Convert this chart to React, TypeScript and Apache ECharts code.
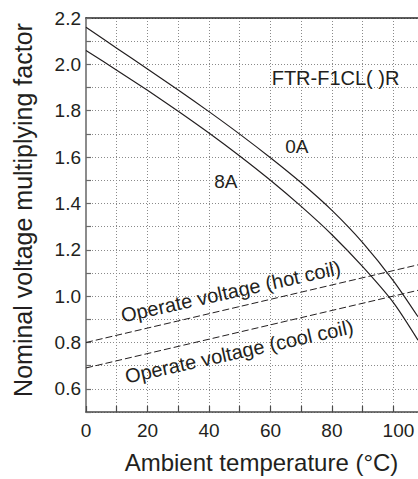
import React, { useEffect, useRef } from "react";
import * as echarts from "echarts";

const temps0A = [0, 10, 20, 30, 40, 50, 60, 70, 80, 90, 100, 108];
const vals0A = [2.16, 2.07, 1.98, 1.889, 1.796, 1.699, 1.597, 1.489, 1.37, 1.231, 1.066, 0.911];
const temps8A = [0, 10, 20, 30, 40, 50, 60, 70, 80, 90, 100, 108];
const vals8A = [2.06, 1.975, 1.888, 1.798, 1.704, 1.605, 1.5, 1.387, 1.265, 1.127, 0.972, 0.81];
const hotTemps = [0, 108];
const hotVals = [0.8, 1.135];
const coolTemps = [0, 108];
const coolVals = [0.69, 1.025];

const xTickLabels = [0, 20, 40, 60, 80, 100];
const yTickLabels = [0.6, 0.8, 1.0, 1.2, 1.4, 1.6, 1.8, 2.0, 2.2];

const annotations = [
  { text: "FTR-F1CL( )R", x: 60.4, y: 1.94, rotate: 0, align: "left", size: 20 },
  { text: "0A", x: 68.6, y: 1.647, rotate: 0, align: "center", size: 19 },
  { text: "8A", x: 45.5, y: 1.496, rotate: 0, align: "center", size: 19 },
  { text: "Operate voltage (hot coil)", x: 47.1, y: 1.02, rotate: 12.5, align: "center", size: 20 },
  { text: "Operate voltage (cool coil)", x: 49.8, y: 0.761, rotate: 12.5, align: "center", size: 20 },
];

const FONT = "'Liberation Sans', Arial, Helvetica, sans-serif";
const INK = "#231f20";

const zip = (xs: number[], ys: number[]) => xs.map((x, i) => [x, ys[i]]);

export default function App() {
  const ref = useRef<HTMLDivElement>(null);
  useEffect(() => {
    document.body.style.margin = "0";
    if (!ref.current) return;
    const chart = echarts.init(ref.current, undefined, { renderer: "svg" });
    const lineBase = { type: "line", showSymbol: false, symbol: "none", silent: true };
    chart.setOption({
      animation: false,
      grid: { left: 86, right: 0, top: 18, bottom: 67, containLabel: false },
      xAxis: [
        {
          type: "value",
          min: 0,
          max: 108,
          interval: 10,
          axisLine: { show: true, lineStyle: { color: "#4a4a4a", width: 1.5 } },
          axisTick: { show: true, inside: true, length: 6, lineStyle: { color: "#4a4a4a", width: 1.2 } },
          axisLabel: {
            margin: 9,
            fontSize: 19,
            fontFamily: FONT,
            color: INK,
            showMaxLabel: false,
            formatter: (v: number) => {
              if (!xTickLabels.some((t) => Math.abs(t - v) < 1e-6)) return "";
              return v === 100 ? "{r|100}" : String(v);
            },
            rich: { r: { fontSize: 19, fontFamily: FONT, color: INK, padding: [0, 0, 0, 10] } },
          },
          splitLine: { show: true, lineStyle: { color: "#8a8a8a", type: [1, 2], width: 1 } },
        },
        {
          type: "value",
          position: "top",
          min: 0,
          max: 108,
          axisLine: { show: true, onZero: false, lineStyle: { color: "#2a2a2a", width: 1.5 } },
          axisTick: { show: false },
          axisLabel: { show: false },
          splitLine: { show: false },
        },
      ],
      yAxis: {
        type: "value",
        min: 0.5,
        max: 2.2,
        interval: 0.1,
        axisLine: { show: true, lineStyle: { color: "#8c8c8c", width: 2 } },
        axisTick: { show: true, inside: true, length: 5, lineStyle: { color: "#6a6a6a", width: 1.2 } },
        axisLabel: {
          margin: 5,
          fontSize: 19,
          fontFamily: FONT,
          color: INK,
          showMaxLabel: true,
          formatter: (v: number) =>
            yTickLabels.some((t) => Math.abs(t - v) < 1e-6) ? v.toFixed(1) : "",
        },
        splitLine: { show: true, lineStyle: { color: "#8a8a8a", type: [1, 2], width: 1 } },
      },
      series: [
        { ...lineBase, name: "0A", data: zip(temps0A, vals0A), smooth: 0.25, lineStyle: { color: INK, width: 1.2 } },
        { ...lineBase, name: "8A", data: zip(temps8A, vals8A), smooth: 0.25, lineStyle: { color: INK, width: 1.2 } },
        { ...lineBase, name: "hot", data: zip(hotTemps, hotVals), lineStyle: { color: INK, width: 1, type: [7, 3] } },
        { ...lineBase, name: "cool", data: zip(coolTemps, coolVals), lineStyle: { color: INK, width: 1, type: [7, 3] } },
      ],
    });

    const graphics: any[] = annotations.map((a) => {
      const p = chart.convertToPixel({ xAxisIndex: 0, yAxisIndex: 0 }, [a.x, a.y]) as number[];
      return {
        type: "text",
        x: p[0],
        y: p[1],
        rotation: (a.rotate * Math.PI) / 180,
        silent: true,
        z: 10,
        style: {
          text: a.text,
          fontSize: a.size,
          fontFamily: FONT,
          fill: INK,
          align: a.align,
          verticalAlign: "middle",
        },
      };
    });
    graphics.push({
      type: "text",
      x: 261.5,
      y: 462.5,
      silent: true,
      style: {
        text: "Ambient temperature (°C)",
        fontSize: 24,
        fontFamily: FONT,
        fill: INK,
        align: "center",
        verticalAlign: "middle",
      },
    });
    graphics.push({
      type: "text",
      x: 23,
      y: 210,
      rotation: Math.PI / 2,
      silent: true,
      style: {
        text: "Nominal voltage multiplying factor",
        fontSize: 25,
        fontFamily: FONT,
        fill: INK,
        align: "center",
        verticalAlign: "middle",
      },
    });
    chart.setOption({ graphic: graphics });

    return () => chart.dispose();
  }, []);
  return <div ref={ref} style={{ width: 418, height: 479 }} />;
}
